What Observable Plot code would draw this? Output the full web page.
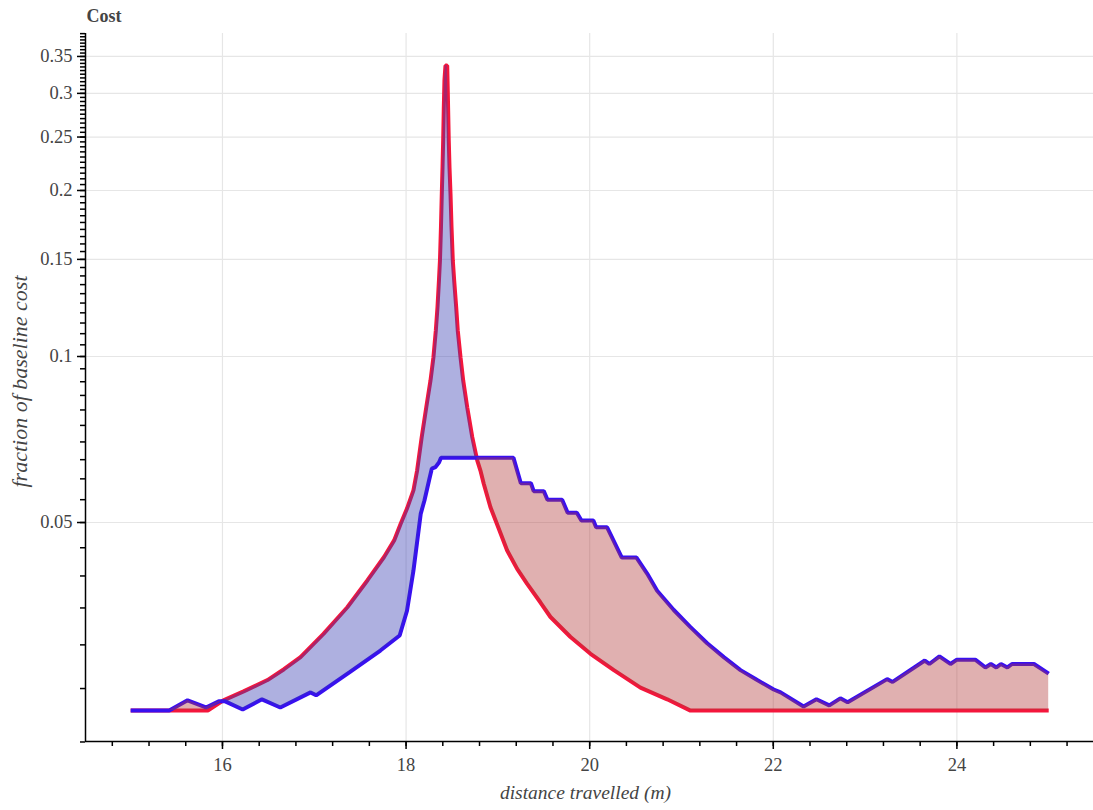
<!DOCTYPE html>
<html>
<head>
<meta charset="utf-8">
<script src="https://cdn.jsdelivr.net/npm/d3@7"></script>
<script src="https://cdn.jsdelivr.net/npm/@observablehq/plot@0.6"></script>
<style>
  body { margin: 0; background: #fff; }
  #chart svg { display: block; }
</style>
</head>
<body>
<div id="chart"></div>
<script>
// ---- Data ----
const titleText = "Cost";
const xLabel = "distance travelled (m)";
const yLabel = "fraction of baseline cost";

// red series
const redX = [15.0, 15.84, 16.01, 16.23, 16.49, 16.67, 16.85, 17.10, 17.36, 17.58, 17.76, 17.87, 17.94,
  18.01, 18.08, 18.12, 18.17, 18.22, 18.266, 18.298, 18.324, 18.342, 18.358, 18.369, 18.380, 18.389,
  18.397, 18.404, 18.411, 18.418, 18.429, 18.448, 18.454, 18.465, 18.473, 18.484, 18.495, 18.509,
  18.524, 18.546, 18.563, 18.593, 18.622, 18.666, 18.721, 18.775, 18.810, 18.846, 18.919, 19.010,
  19.101, 19.210, 19.319, 19.464, 19.573, 19.791, 20.009, 20.263, 20.553, 20.844, 21.098, 25.0];
const redY = [0.0228, 0.0228, 0.0238, 0.0247, 0.0259, 0.0271, 0.0285, 0.0314, 0.0351, 0.0393, 0.0433, 0.0464, 0.0497,
  0.0530, 0.0572, 0.0621, 0.0714, 0.0809, 0.0905, 0.0997, 0.1115, 0.1228, 0.1373, 0.1493, 0.1716, 0.1972,
  0.2204, 0.2464, 0.2832, 0.3166, 0.337, 0.337, 0.3036, 0.2464, 0.2204, 0.1972, 0.1716, 0.1493,
  0.1373, 0.1228, 0.1115, 0.0997, 0.0905, 0.0809, 0.0714, 0.0648, 0.0621, 0.0588, 0.0533, 0.0487,
  0.0445, 0.0412, 0.0387, 0.0358, 0.0337, 0.0310, 0.0289, 0.0270, 0.0251, 0.0239, 0.0228, 0.0228];

// blue series
const blueX = [15.0, 15.42, 15.62, 15.82, 15.96, 16.03, 16.22, 16.43, 16.63, 16.96, 17.02, 17.39, 17.72,
  17.93, 18.01, 18.08, 18.16, 18.20, 18.25, 18.28, 18.32, 18.36, 18.38, 19.17, 19.25, 19.36, 19.39,
  19.50, 19.54, 19.70, 19.76, 19.86, 19.91, 20.04, 20.07, 20.19, 20.35, 20.51, 20.626, 20.735, 20.916,
  21.098, 21.280, 21.461, 21.643, 21.825, 22.005, 22.08, 22.33, 22.47, 22.61, 22.73, 22.81, 23.24, 23.30,
  23.65, 23.70, 23.81, 23.93, 24.00, 24.20, 24.31, 24.37, 24.43, 24.48, 24.55, 24.60, 24.84, 25.0];
const blueY = [0.0228, 0.0228, 0.0238, 0.0231, 0.0237, 0.0237, 0.0229, 0.0239, 0.0231, 0.0246, 0.0243, 0.0268, 0.0293,
  0.0312, 0.0346, 0.0409, 0.0519, 0.0548, 0.0596, 0.0626, 0.0630, 0.0643, 0.0655, 0.0655, 0.0589, 0.0589, 0.0570,
  0.0570, 0.0550, 0.0550, 0.0521, 0.0521, 0.0504, 0.0504, 0.0490, 0.0490, 0.0432, 0.0432, 0.0404, 0.0376, 0.0347,
  0.0323, 0.0302, 0.0285, 0.0270, 0.0259, 0.0249, 0.0246, 0.0232, 0.0239, 0.0233, 0.0240, 0.0236, 0.0260, 0.0257,
  0.0281, 0.0277, 0.0286, 0.0277, 0.0282, 0.0282, 0.0273, 0.0277, 0.0273, 0.0277, 0.0273, 0.0277, 0.0277, 0.0266];

// axes
const xDomain = [14.508, 25.488];
const yDomain = [0.02004, 0.3852];
const xMajorTicks = [16, 18, 20, 22, 24];
const xMinorTicks = d3.range(37, 64).map(i => +(i * 0.4).toFixed(1));
const yMajorTicks = [0.05, 0.1, 0.15, 0.2, 0.25, 0.3, 0.35];
const yMinorTicks = d3.range(4, 78).map(i => +(i * 0.005).toFixed(3));

// colours
const redLine = "#f4163c";
const blueLine = "#3810f0";
const blueFill = "rgb(53,58,178)";
const redFill = "rgb(178,58,58)";
const gridColor = "#e6e6e6";
const textColor = "#444";
const font = "Liberation Serif, Times New Roman, serif";

// ---- build tables ----
const redData = redX.map((x, i) => ({x, y: redY[i]}));
const blueData = blueX.map((x, i) => ({x, y: blueY[i]}));

function interpLog(xs, ys, x) {
  if (x <= xs[0]) return ys[0];
  if (x >= xs[xs.length - 1]) return ys[ys.length - 1];
  let i = d3.bisectRight(xs, x) - 1;
  if (i >= xs.length - 1) i = xs.length - 2;
  const t = (x - xs[i]) / (xs[i + 1] - xs[i]);
  return Math.exp(Math.log(ys[i]) * (1 - t) + Math.log(ys[i + 1]) * t);
}
const allX = Array.from(new Set([...redX, ...blueX])).sort((a, b) => a - b);
const merged = allX.map(x => ({x, r: interpLog(redX, redY, x), b: interpLog(blueX, blueY, x)}));
const fillData = [];
for (let i = 0; i < merged.length; i++) {
  const p = merged[i];
  if (i > 0) {
    const q = merged[i - 1];
    const d0 = Math.log(q.r) - Math.log(q.b), d1 = Math.log(p.r) - Math.log(p.b);
    if (d0 * d1 < 0) {
      const t = d0 / (d0 - d1);
      const x = q.x + t * (p.x - q.x);
      const lr = Math.log(q.r) + t * (Math.log(p.r) - Math.log(q.r));
      fillData.push({x, r: Math.exp(lr), b: Math.exp(lr)});
    }
  }
  fillData.push(p);
}

const chart = Plot.plot({
  width: 1093,
  height: 810,
  marginLeft: 85,
  marginRight: 0,
  marginTop: 33,
  marginBottom: 69,
  style: {fontFamily: font, background: "#fff", overflow: "visible"},
  x: {domain: xDomain, axis: null},
  y: {type: "log", domain: yDomain, axis: null},
  marks: [
    Plot.gridX(xMajorTicks, {stroke: gridColor, strokeOpacity: 1, strokeWidth: 1.2}),
    Plot.gridY(yMajorTicks, {stroke: gridColor, strokeOpacity: 1, strokeWidth: 1.2}),
    Plot.line(redData, {x: "x", y: "y", stroke: redLine, strokeWidth: 4, strokeLinejoin: "bevel", strokeLinecap: "butt"}),
    Plot.line(blueData, {x: "x", y: "y", stroke: blueLine, strokeWidth: 4, strokeLinejoin: "bevel", strokeLinecap: "butt"}),
    Plot.areaY(fillData, {x: "x", y1: "r", y2: d => Math.min(d.r, d.b), fill: blueFill, fillOpacity: 0.4}),
    Plot.areaY(fillData, {x: "x", y1: "b", y2: d => Math.min(d.r, d.b), fill: redFill, fillOpacity: 0.4}),
    // axis lines
    Plot.ruleX([xDomain[0]], {stroke: "black", strokeWidth: 1.5}),
    Plot.ruleY([yDomain[0]], {stroke: "black", strokeWidth: 1.5}),
    // ticks
    Plot.axisX(xMinorTicks, {tickSize: 5, stroke: "black", strokeWidth: 1.5, tickFormat: () => "", label: null}),
    Plot.axisX(xMajorTicks, {tickSize: 8, tickPadding: 8, stroke: "black", strokeWidth: 1.5, color: textColor,
      fontSize: 18.5, fontFamily: font, tickFormat: d => String(d), label: null}),
    Plot.axisY(yMinorTicks, {tickSize: 5, stroke: "black", strokeWidth: 1.5, tickFormat: () => "", label: null}),
    Plot.axisY(yMajorTicks, {tickSize: 8, tickPadding: 5, stroke: "black", strokeWidth: 1.5, color: textColor,
      fontSize: 18.5, fontFamily: font, tickFormat: d => String(+d.toFixed(2)), label: null}),
    // labels
    Plot.text([xLabel], {frameAnchor: "bottom", dx: -4, dy: 51, text: d => d, fill: textColor, fontSize: 19.5,
      fontStyle: "italic", fontFamily: font, lineAnchor: "middle", textAnchor: "middle"}),
    Plot.text([yLabel], {frameAnchor: "left", dx: -66, dy: -6, rotate: -90, text: d => d, fill: textColor, fontSize: 22,
      fontStyle: "italic", fontFamily: font, lineAnchor: "middle", textAnchor: "middle"}),
    Plot.text([titleText], {frameAnchor: "top-left", dx: 1, dy: -12, text: d => d, fill: textColor, fontSize: 18,
      fontWeight: "bold", fontFamily: font, textAnchor: "start", lineAnchor: "bottom"})
  ]
});
document.getElementById("chart").appendChild(chart);
</script>
</body>
</html>
